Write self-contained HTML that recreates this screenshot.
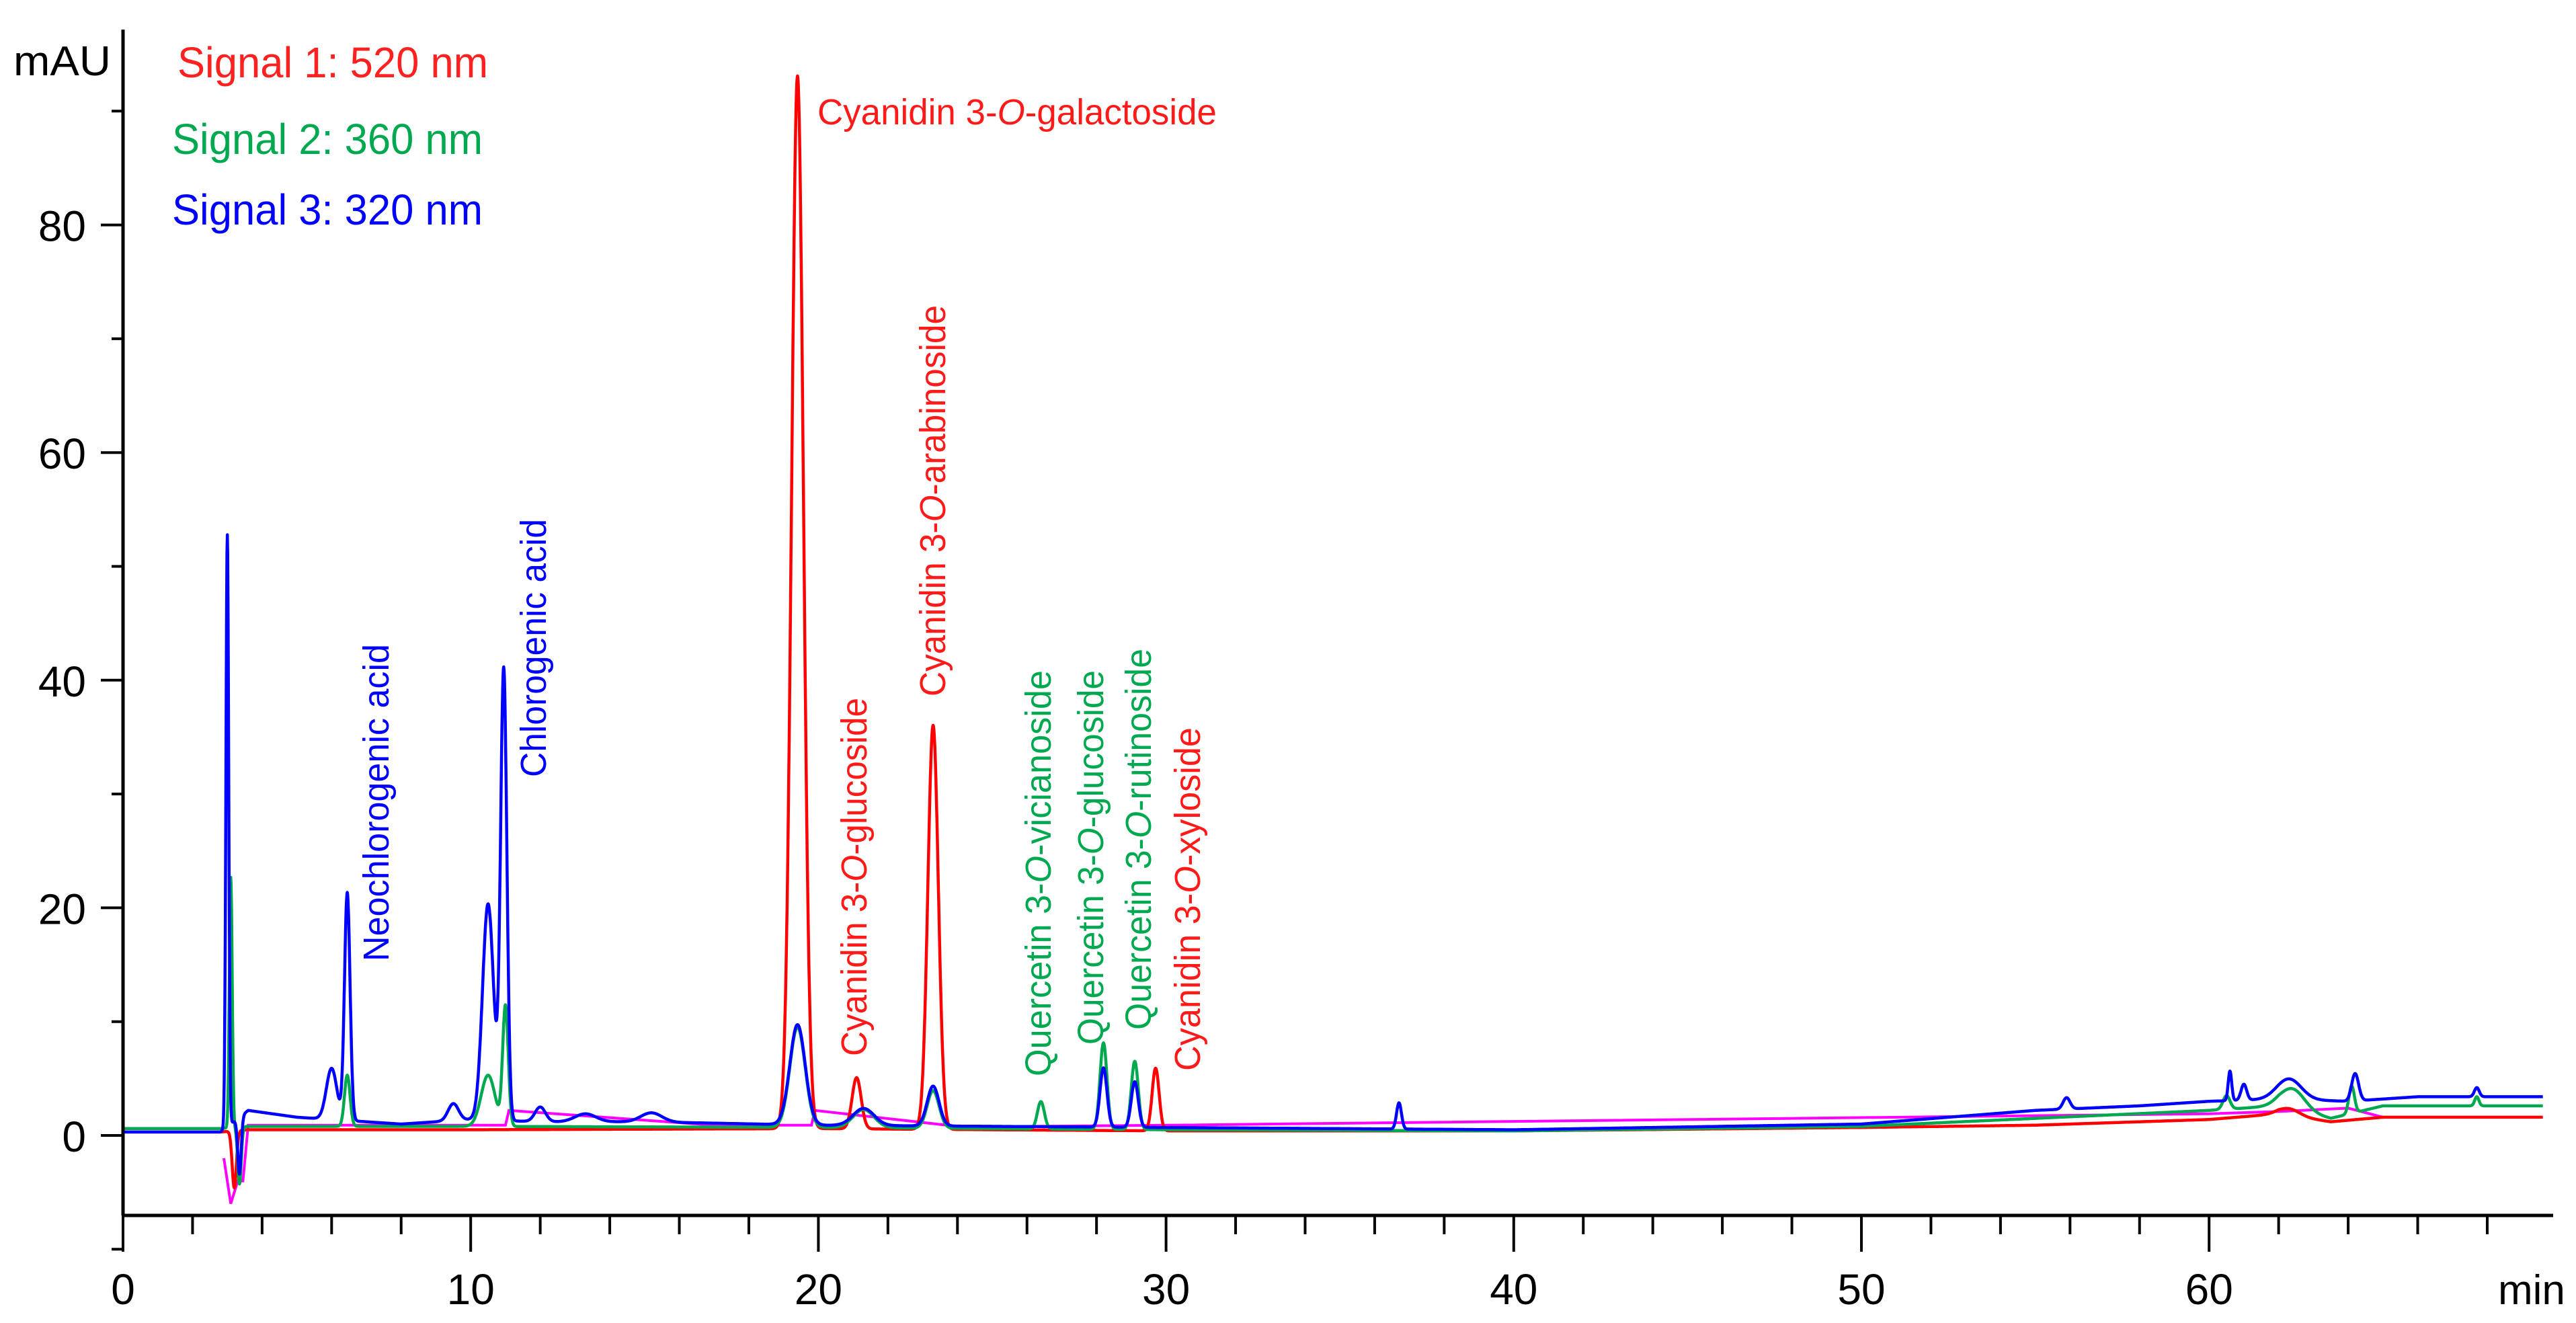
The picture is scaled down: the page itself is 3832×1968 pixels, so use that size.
<!DOCTYPE html>
<html><head><meta charset="utf-8"><style>
html,body{margin:0;padding:0;background:#fff;}
svg{display:block;font-family:"Liberation Sans",Arial,sans-serif;}
</style></head><body>
<svg id="chart" width="3832" height="1968" viewBox="0 0 3832 1968" xmlns="http://www.w3.org/2000/svg">
<g id="series"></g>
<g id="axes"></g>
<g id="labels"></g>
</svg>
<script>
// ---- data (time in min, absorbance in mAU) ----
const xTicks = [0,10,20,30,40,50,60];
const yTicks = [0,20,40,60,80];
// baselines
const redBaseT = [0,2.8,3.6,10,20,30,40,50,55,60,62,63.5,65,70];
const redBaseV = [0.3,0.3,0.5,0.5,0.6,0.4,0.4,0.7,0.9,1.4,1.9,1.2,1.6,1.6];
const greenBaseT = [0,2.8,3.6,10,20,30,40,50,55,60,62,63.5,65,70];
const greenBaseV = [0.6,0.6,0.8,0.8,0.7,0.5,0.4,0.8,1.5,2.2,2.6,1.5,2.6,2.6];
const blueBaseT = [0,2.8,3.6,5,8,10,12,15,20,30,40,50,55,58,60,62,64,66,70];
const blueBaseV = [0.3,0.3,2.2,1.6,1.0,1.4,1.2,1.2,0.9,0.7,0.5,1.0,2.2,2.6,3.0,3.2,3.0,3.4,3.4];
// peaks: retention time, height, sigma
const redPeakT = [3.2,19.4,21.1,23.3,29.7,62.3];
const redPeakH = [-5,92.5,4.5,35.5,5.5,0.6];
const redPeakW = [0.06,0.17,0.13,0.15,0.1,0.3];
const greenPeakT = [3.1,3.35,6.45,10.5,11.0,19.4,21.3,23.3,26.4,28.2,29.1,60.5,62.4,64.1,67.7];
const greenPeakH = [22,-5,4.5,4.5,10.5,8.8,1.6,3.3,2.4,7.6,6.0,1.2,1.8,2.4,0.8];
const greenPeakW = [0.04,0.05,0.08,0.2,0.08,0.22,0.3,0.17,0.1,0.1,0.1,0.1,0.35,0.08,0.06];
const bluePeakT = [3.0,3.35,6.0,6.45,9.5,10.5,10.95,12.0,13.3,15.2,19.4,21.3,23.3,28.2,29.1,36.7,55.9,60.6,61.0,62.3,64.2,67.7];
const bluePeakH = [52,-5,4.5,20,1.5,19,39.5,1.3,0.7,0.8,8.8,1.5,3.5,5.2,4.0,2.3,1.0,2.6,1.4,1.8,2.4,0.8];
const bluePeakW = [0.04,0.05,0.15,0.08,0.15,0.16,0.09,0.15,0.3,0.3,0.22,0.3,0.17,0.1,0.1,0.07,0.1,0.05,0.08,0.35,0.1,0.07];
// integration baseline (magenta)
const magT = [2.9,3.1,3.3,3.45,3.6,11,11.1,17,19,19.8,19.9,24,26,30,60,62,64,65];
const magV = [-2,-6,-4,-4,0.9,0.9,2.2,0.9,0.9,0.9,2.2,0.8,0.8,0.9,1.9,2.1,2.4,1.6];

// ---- axes mapping ----
const X0=183, PXMIN=51.72, Y0=1689, PXMAU=16.93;
const sx = t => X0 + t*PXMIN;
const sy = v => Y0 - v*PXMAU;
const NS='http://www.w3.org/2000/svg';
function mk(tag, attrs, parent){const e=document.createElementNS(NS,tag);for(const k in attrs)e.setAttribute(k,attrs[k]);parent.appendChild(e);return e;}
function interp(T,V,t){if(t<=T[0])return V[0];for(let i=1;i<T.length;i++){if(t<=T[i]){const f=(t-T[i-1])/(T[i]-T[i-1]);return V[i-1]+f*(V[i]-V[i-1]);}}return V[V.length-1];}
function signal(bT,bV,pT,pH,pW,t){let v=interp(bT,bV,t);for(let i=0;i<pT.length;i++){const d=(t-pT[i])/pW[i];if(Math.abs(d)<6)v+=pH[i]*Math.exp(-0.5*d*d);}return v;}
const series=document.getElementById('series');
function drawSeries(name,color,bT,bV,pT,pH,pW){
  let d='';
  for(let t=0;t<=69.6;t+=0.01){d+=(d?'L':'M')+sx(t).toFixed(1)+','+sy(signal(bT,bV,pT,pH,pW,t)).toFixed(1);}
  const p=mk('path',{d:d,fill:'none',stroke:color,'stroke-width':4.5,'stroke-linejoin':'round'},series);
  
  
}
(function(){let d='';for(let i=0;i<magT.length;i++)d+=(i?'L':'M')+sx(magT[i]).toFixed(1)+','+sy(magV[i]).toFixed(1);
 const p=mk('path',{d:d,fill:'none',stroke:'#ff00ff','stroke-width':4},series);
 
 })();
drawSeries('series-red-520nm','#ff0000',redBaseT,redBaseV,redPeakT,redPeakH,redPeakW);
drawSeries('series-green-360nm','#00a84f',greenBaseT,greenBaseV,greenPeakT,greenPeakH,greenPeakW);
drawSeries('series-blue-320nm','#0000ff',blueBaseT,blueBaseV,bluePeakT,bluePeakH,bluePeakW);

// ---- axes ----
const axes=document.getElementById('axes');
let a=mk('line',{x1:183,y1:44,x2:183,y2:1808,stroke:'#000','stroke-width':5},axes);

a=mk('line',{x1:181,y1:1808,x2:3798,y2:1808,stroke:'#000','stroke-width':5},axes);

for(let t=0;t<=68;t+=2){const major=(t%10===0);
  const l=mk('line',{x1:sx(t),y1:1808,x2:sx(t),y2:major?1862:1836,stroke:'#000','stroke-width':4},axes);
  }
xTicks.forEach(t=>{const e=mk('text',{x:sx(t),y:1940,'font-size':64,'text-anchor':'middle',fill:'#000'},axes);e.textContent=t;
  });
for(let v=-10;v<=90;v+=10){const major=(v%20===0);
  const l=mk('line',{x1:major?150:166,y1:sy(v),x2:183,y2:sy(v),stroke:'#000','stroke-width':4},axes);
  }
yTicks.forEach(v=>{const e=mk('text',{x:128,y:sy(v)+24,'font-size':64,'text-anchor':'end',fill:'#000'},axes);e.textContent=v;
  });
let e=mk('text',{x:20,y:112,'font-size':62,fill:'#000',textLength:145,lengthAdjust:'spacingAndGlyphs'},axes);e.textContent='mAU';

e=mk('text',{x:3716,y:1940,'font-size':62,fill:'#000'},axes);e.textContent='min';


// ---- legend & peak labels ----
const labels=document.getElementById('labels');
[['Signal 1: 520 nm','#ff2020',115,'legend-entry-signal-1',264],['Signal 2: 360 nm','#00a84f',229,'legend-entry-signal-2',256],['Signal 3: 320 nm','#0000ff',334,'legend-entry-signal-3',256]].forEach(r=>{
  const t=mk('text',{x:r[4],y:r[2],'font-size':64,fill:r[1],textLength:462,lengthAdjust:'spacingAndGlyphs'},labels);t.textContent=r[0];
  });
function peakLabel(pre,post,color,x,y,len,rot,name){
  const t=mk('text',{x:0,y:0,'font-size':54,fill:color,textLength:len,lengthAdjust:'spacingAndGlyphs',transform:rot?`translate(${x},${y}) rotate(-90)`:`translate(${x},${y})`},labels);
  
  const s1=mk('tspan',{},t);s1.textContent=pre;
  if(post!==null){const s2=mk('tspan',{'font-style':'italic'},t);s2.textContent='O';const s3=mk('tspan',{},t);s3.textContent=post;}
}
const BL='#0000ff',RD='#ff1a1a',GR='#00a84f';
peakLabel('Neochlorogenic  acid',null,BL,578,1430,472,true,'label-neochlorogenic-acid');
peakLabel('Chlorogenic  acid',null,BL,812,1156,384,true,'label-chlorogenic-acid');
peakLabel('Cyanidin 3-','-galactoside',RD,1216,185,594,false,'label-cyanidin-galactoside');
peakLabel('Cyanidin  3-','-glucoside',RD,1289,1571,533,true,'label-cyanidin-glucoside');
peakLabel('Cyanidin  3-','-arabinoside',RD,1406,1036,582,true,'label-cyanidin-arabinoside');
peakLabel('Quercetin  3-','-vicianoside',GR,1563,1601,604,true,'label-quercetin-vicianoside');
peakLabel('Quercetin  3-','-glucoside',GR,1641,1554,557,true,'label-quercetin-glucoside');
peakLabel('Quercetin  3-','-rutinoside',GR,1712,1532,567,true,'label-quercetin-rutinoside');
peakLabel('Cyanidin  3-','-xyloside',RD,1785,1593,511,true,'label-cyanidin-xyloside');
</script>
</body></html>
